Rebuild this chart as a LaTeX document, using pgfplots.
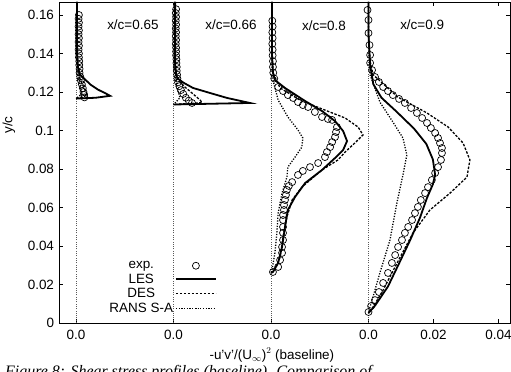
\documentclass[border=0pt]{standalone}
\usepackage{fontspec}
\setmainfont{Liberation Sans}
\newfontfamily\capfont{Liberation Serif}
\usepackage{pgfplots}
\pgfplotsset{compat=1.18}
\begin{document}
\begin{tikzpicture}[font=\fontsize{13.5}{15}\selectfont]
\begin{axis}[
  name=ax,
  scale only axis, width=451bp, height=321bp,
  xmin=-0.00523, xmax=0.13354, ymin=0, ymax=0.16675,
  xtick={0,0.03,0.06,0.09,0.11,0.13},
  xticklabels={0.0,0.0,0.0,0.0,0.02,0.04},
  ytick={0,0.02,0.04,0.06,0.08,0.1,0.12,0.14,0.16},
  yticklabels={0,0.02,0.04,0.06,0.08,0.1,0.12,0.14,0.16},
  /pgf/number format/assume math mode=true,
  tick align=inside, major tick length=4bp,
  axis line style={line width=0.9bp},
  every tick/.style={line width=0.8bp, black},
  xticklabel style={yshift=-3.5bp},
  yticklabel style={xshift=-1.5bp},
  xlabel={-u'v'/(U$_\infty$)$^2$ (baseline)},
  xlabel style={at={(rel axis cs:0.472,-0.1)}, anchor=center},
  ylabel={y/c},
  ylabel style={at={(rel axis cs:-0.111,0.617)}, anchor=center, rotate=0},
  legend plot pos=right,
  legend cell align=center,
  legend image code/.code={\draw[mark repeat=2,mark phase=2,#1] plot coordinates {(0bp,0bp) (20bp,0bp) (40bp,0bp)};},
  legend style={draw=none, fill=none, at={(rel axis cs:0.357,0.205)}, anchor=north east,
    font=\fontsize{13.5}{13.5}\selectfont, row sep=-0.3bp,
    /tikz/every even column/.append style={column sep=4bp}},
  clip=false,
]
% reference lines
\addplot[forget plot, gray!70!black, line width=0.6bp, dash pattern=on 1bp off 1.3bp] coordinates {(0,0) (0,0.16675)};
\addplot[forget plot, gray!70!black, line width=0.6bp, dash pattern=on 1bp off 1.3bp] coordinates {(0.03,0) (0.03,0.16675)};
\addplot[forget plot, gray!70!black, line width=0.6bp, dash pattern=on 1bp off 1.3bp] coordinates {(0.06,0) (0.06,0.16675)};
\addplot[forget plot, gray!70!black, line width=0.6bp, dash pattern=on 1bp off 1.3bp] coordinates {(0.09,0) (0.09,0.16675)};

% ---------- panel 1 : x/c=0.65 ----------
\addplot[only marks, mark=o, mark size=3.5bp, mark options={line width=0.7bp, black}] coordinates {
(0.0009,0.1600)(0.0008,0.1580)(0.0009,0.1560)(0.0008,0.1540)(0.0009,0.1520)(0.0008,0.1500)
(0.0009,0.1480)(0.0008,0.1460)(0.0009,0.1440)(0.0008,0.1420)(0.0009,0.1400)(0.0009,0.1380)
(0.0010,0.1360)(0.0010,0.1340)(0.0011,0.1320)(0.0011,0.1300)(0.0013,0.1280)(0.0015,0.1260)
(0.0018,0.1240)(0.0021,0.1220)(0.0023,0.1200)(0.0025,0.1185)(0.0026,0.1172)};
\addlegendentry{exp.}
\addplot[black, line width=1.8bp] coordinates {
(0.0003,0.1668)(0.0003,0.1400)(0.0006,0.1330)(0.0012,0.1290)(0.0028,0.1265)(0.0045,0.1238)
(0.0068,0.1212)(0.0092,0.1192)(0.0105,0.1180)(0.0060,0.1170)(0.0,0.1166)};
\addlegendentry{LES}
\addplot[black, line width=1.3bp, dash pattern=on 2.5bp off 1.5bp] coordinates {
(0.0003,0.1668)(0.0003,0.1350)(0.0012,0.1270)(0.0025,0.1220)(0.0035,0.1185)(0.0015,0.1170)(0,0.1166)};
\addlegendentry{DES}
\addplot[black, line width=1.3bp, dash pattern=on 1.2bp off 1.5bp] coordinates {
(0.0003,0.1668)(0.0006,0.1300)(0.0012,0.1240)(0.0018,0.1190)(0.0,0.1166)};
\addlegendentry{RANS S-A}

% ---------- panel 2 : x/c=0.66 ----------
\addplot[forget plot, only marks, mark=o, mark size=3.5bp, mark options={line width=0.7bp, black}] coordinates {
(0.0308,0.1630)(0.0307,0.1610)(0.0308,0.1590)(0.0307,0.1570)(0.0308,0.1550)(0.0307,0.1530)
(0.0308,0.1510)(0.0307,0.1490)(0.0308,0.1470)(0.0307,0.1450)(0.0308,0.1430)(0.0308,0.1410)
(0.0308,0.1390)(0.0309,0.1370)(0.0309,0.1350)(0.0310,0.1330)(0.0310,0.1310)(0.0311,0.1290)
(0.0312,0.1270)(0.0314,0.1250)(0.0318,0.1230)(0.0323,0.1210)(0.0330,0.1190)(0.0338,0.1170)
(0.0347,0.1155)(0.0357,0.1143)};
\addplot[forget plot, black, line width=1.8bp] coordinates {
(0.0305,0.1668)(0.0305,0.1350)(0.0308,0.1290)(0.0313,0.1270)(0.0331,0.1248)(0.0360,0.1221)
(0.0412,0.1195)(0.0465,0.1169)(0.0535,0.1143)(0.0300,0.1135)};
\addplot[forget plot, black, line width=1.3bp, dash pattern=on 2.5bp off 1.5bp] coordinates {
(0.0305,0.1668)(0.0305,0.1320)(0.0314,0.1262)(0.0335,0.1226)(0.0360,0.1190)(0.0382,0.1158)
(0.0388,0.1145)(0.0300,0.1135)};
\addplot[forget plot, black, line width=1.3bp, dash pattern=on 1.2bp off 1.5bp] coordinates {
(0.0303,0.1668)(0.0305,0.1300)(0.0311,0.1220)(0.0320,0.1170)(0.0300,0.1135)};

% ---------- panel 3 : x/c=0.8 ----------
\addplot[forget plot, only marks, mark=o, mark size=3.5bp, mark options={line width=0.7bp, black}] coordinates {
(0.0604,0.1570)(0.0605,0.1540)(0.0604,0.1510)(0.0605,0.1480)(0.0604,0.1450)(0.0605,0.1420)
(0.0605,0.1390)(0.0606,0.1360)(0.0606,0.1330)(0.0607,0.1300)(0.0610,0.1270)(0.0622,0.1226)
(0.0637,0.1205)(0.0652,0.1184)(0.0668,0.1169)(0.0683,0.1148)(0.0698,0.1132)(0.0714,0.1122)
(0.0735,0.1096)(0.0757,0.1070)(0.0775,0.1060)(0.0788,0.1055)(0.0803,0.1018)(0.0800,0.0992)
(0.0797,0.0966)(0.0788,0.0940)(0.0782,0.0914)(0.0772,0.0888)(0.0766,0.0862)(0.0745,0.0831)
(0.0720,0.0810)(0.0698,0.0790)(0.0683,0.0769)(0.0665,0.0732)(0.0655,0.0712)(0.0649,0.0691)
(0.0646,0.0665)(0.0643,0.0639)(0.0640,0.0613)(0.0640,0.0587)(0.0637,0.0561)(0.0637,0.0535)
(0.0637,0.0499)(0.0637,0.0468)(0.0637,0.0431)(0.0634,0.0395)(0.0634,0.0364)(0.0628,0.0327)
(0.0622,0.0291)(0.0606,0.0265)};
\addplot[forget plot, black, line width=1.8bp] coordinates {
(0.0603,0.1668)(0.0603,0.1400)(0.0606,0.1300)(0.0612,0.1262)(0.0643,0.1221)(0.0705,0.1153)
(0.0757,0.1101)(0.0797,0.1049)(0.0822,0.0997)(0.0834,0.0945)(0.0822,0.0899)(0.0797,0.0857)
(0.0757,0.0795)(0.0705,0.0727)(0.0674,0.0655)(0.0652,0.0587)(0.0643,0.0499)(0.0634,0.0395)
(0.0622,0.0312)(0.0606,0.0265)(0.0600,0.0260)};
\addplot[forget plot, black, line width=1.3bp, dash pattern=on 2.5bp off 1.5bp] coordinates {
(0.0603,0.1668)(0.0603,0.1400)(0.0606,0.1300)(0.0628,0.1221)(0.0689,0.1158)(0.0766,0.1106)
(0.0828,0.1065)(0.0868,0.1018)(0.0883,0.0977)(0.0858,0.0935)(0.0828,0.0888)(0.0806,0.0847)
(0.0757,0.0795)(0.0695,0.0706)(0.0665,0.0639)(0.0649,0.0551)(0.0637,0.0447)(0.0628,0.0343)
(0.0612,0.0275)(0.0600,0.0260)};
\addplot[forget plot, black, line width=1.3bp, dash pattern=on 1.2bp off 1.5bp] coordinates {
(0.0603,0.1668)(0.0603,0.1400)(0.0606,0.1262)(0.0622,0.1158)(0.0652,0.1070)(0.0683,0.1003)
(0.0698,0.0961)(0.0695,0.0914)(0.0674,0.0862)(0.0652,0.0810)(0.0649,0.0758)(0.0634,0.0675)
(0.0622,0.0571)(0.0618,0.0468)(0.0612,0.0364)(0.0603,0.0275)(0.0600,0.0260)};

% ---------- panel 4 : x/c=0.9 ----------
\addplot[forget plot, only marks, mark=o, mark size=3.5bp, mark options={line width=0.7bp, black}] coordinates {
(0.0897,0.1626)(0.0900,0.1574)(0.0900,0.1506)(0.0903,0.1444)(0.0905,0.1392)(0.0905,0.1351)
(0.0911,0.1314)(0.0920,0.1278)(0.0932,0.1252)(0.0945,0.1226)(0.0960,0.1205)(0.0975,0.1184)
(0.0994,0.1164)(0.1012,0.1143)(0.1031,0.1117)(0.1049,0.1091)(0.1065,0.1065)(0.1080,0.1039)
(0.1092,0.1013)(0.1105,0.0987)(0.1114,0.0961)(0.1120,0.0935)(0.1126,0.0909)(0.1126,0.0883)
(0.1123,0.0847)(0.1114,0.0810)(0.1105,0.0779)(0.1095,0.0743)(0.1083,0.0706)(0.1074,0.0675)
(0.1061,0.0639)(0.1052,0.0603)(0.1043,0.0571)(0.1034,0.0535)(0.1022,0.0499)(0.1012,0.0468)
(0.1003,0.0431)(0.0991,0.0395)(0.0982,0.0353)(0.0972,0.0312)(0.0960,0.0260)(0.0945,0.0208)
(0.0932,0.0161)(0.0920,0.0119)(0.0908,0.0088)(0.0900,0.0057)};
\addplot[forget plot, black, line width=1.8bp] coordinates {
(0.0900,0.1668)(0.0900,0.1500)(0.0905,0.1340)(0.0915,0.1240)(0.0940,0.1170)(0.0985,0.1100)
(0.1040,0.1010)(0.1078,0.0930)(0.1098,0.0850)(0.1105,0.0770)(0.1098,0.0720)(0.1080,0.0650)
(0.1058,0.0545)(0.1028,0.0430)(0.0997,0.0320)(0.0960,0.0190)(0.0920,0.0090)(0.0900,0.0052)};
\addplot[forget plot, black, line width=1.3bp, dash pattern=on 2.5bp off 1.5bp] coordinates {
(0.0900,0.1668)(0.0900,0.1500)(0.0905,0.1360)(0.0914,0.1290)(0.0990,0.1174)(0.1080,0.1091)
(0.1145,0.1018)(0.1191,0.0935)(0.1212,0.0847)(0.1203,0.0758)(0.1151,0.0675)(0.1089,0.0587)
(0.1037,0.0468)(0.0988,0.0312)(0.0945,0.0171)(0.0914,0.0083)(0.0900,0.0052)};
\addplot[forget plot, black, line width=1.3bp, dash pattern=on 1.2bp off 1.5bp] coordinates {
(0.0900,0.1668)(0.0900,0.1500)(0.0905,0.1288)(0.0935,0.1148)(0.0975,0.1044)(0.1006,0.0961)
(0.1018,0.0873)(0.1006,0.0769)(0.0988,0.0629)(0.0966,0.0431)(0.0935,0.0260)(0.0911,0.0119)
(0.0900,0.0057)};

\node at (axis cs:0.0175,0.1548) {x/c=0.65};
\node at (axis cs:0.0477,0.1548) {x/c=0.66};
\node at (axis cs:0.0763,0.1543) {x/c=0.8};
\node at (axis cs:0.1065,0.1548) {x/c=0.9};
\end{axis}
\node[anchor=north west, inner sep=0pt, font=\capfont\itshape\fontsize{16}{18}\selectfont]
  at ([xshift=-54bp,yshift=-42bp]ax.south west) {Figure 8: Shear stress profiles (baseline). Comparison of};
\pgfresetboundingbox
\path ([xshift=-59bp,yshift=-49bp]ax.south west) rectangle ([xshift=1bp,yshift=2bp]ax.north east);
\end{tikzpicture}
\end{document}
